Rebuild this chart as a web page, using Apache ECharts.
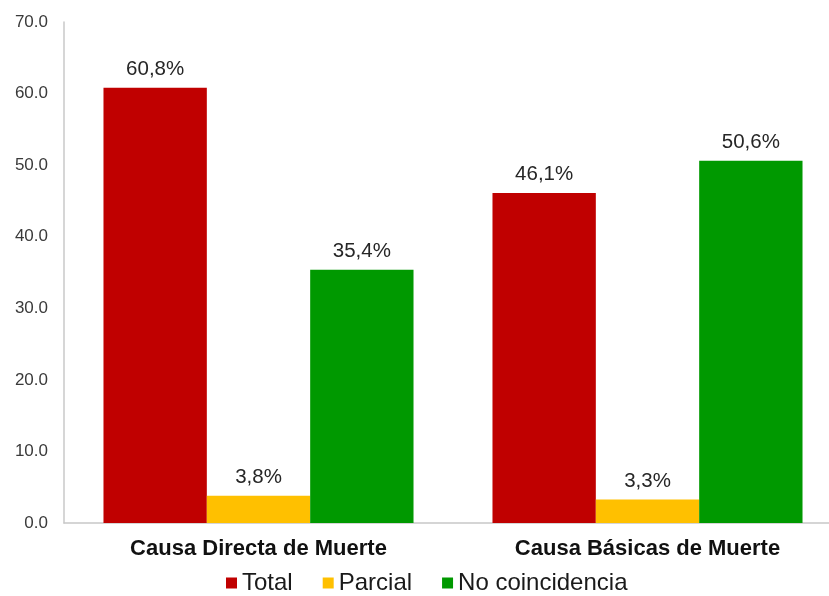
<!DOCTYPE html>
<html>
<head>
<meta charset="utf-8">
<script src="https://cdn.jsdelivr.net/npm/echarts@6/dist/echarts.min.js"></script>
<style>
  html, body { margin: 0; padding: 0; background: #fff; }
  #container { width: 829px; height: 596px; }
</style>
</head>
<body>
<div id="container"></div>
<script>
  var categories = ['Causa Directa de Muerte', 'Causa Básicas de Muerte'];
  var totalValues = [60.8, 46.1];
  var parcialValues = [3.8, 3.3];
  var noCoincValues = [35.4, 50.6];

  var font = '"Liberation Sans", Arial, sans-serif';
  var myChart = echarts.init(document.getElementById('container'));

  function pct(p) {
    return p.value.toFixed(1).replace('.', ',') + '%';
  }

  function barSeries(name, data, color) {
    return {
      name: name,
      type: 'bar',
      data: data,
      barGap: 0,
      barCategoryGap: '20.3%',
      itemStyle: { color: color },
      label: {
        show: true,
        position: 'top',
        distance: 8,
        formatter: pct,
        color: '#262626',
        fontSize: 20.5,
        fontFamily: font
      }
    };
  }

  var option = {
    animation: false,
    textStyle: { fontFamily: font },
    grid: {
      left: 64,
      width: 778,
      top: 22,
      bottom: 73,
      outerBoundsMode: 'none'
    },
    legend: {
      left: 221,
      top: 566,
      itemWidth: 11,
      itemHeight: 11,
      itemGap: 30,
      icon: 'rect',
      textStyle: { fontSize: 24, color: '#1a1a1a', fontFamily: font },
      data: ['Total', 'Parcial', 'No coincidencia']
    },
    xAxis: {
      type: 'category',
      data: categories,
      axisLine: { lineStyle: { color: '#c8c8c8', width: 1.5 } },
      axisTick: { show: false },
      axisLabel: {
        fontSize: 22,
        fontWeight: 'bold',
        color: '#111',
        margin: 15,
        fontFamily: font
      }
    },
    yAxis: {
      type: 'value',
      min: 0,
      max: 70,
      interval: 10,
      splitLine: { show: false },
      axisLine: { show: true, lineStyle: { color: '#c8c8c8', width: 1.5 } },
      axisTick: { show: false },
      axisLabel: {
        formatter: function (v) { return v.toFixed(1); },
        fontSize: 17,
        color: '#3a3a3a',
        margin: 16,
        fontFamily: font
      }
    },
    series: [
      barSeries('Total', totalValues, '#C00000'),
      barSeries('Parcial', parcialValues, '#FFC000'),
      barSeries('No coincidencia', noCoincValues, '#009900')
    ]
  };
  myChart.setOption(option, true);
</script>
</body>
</html>
